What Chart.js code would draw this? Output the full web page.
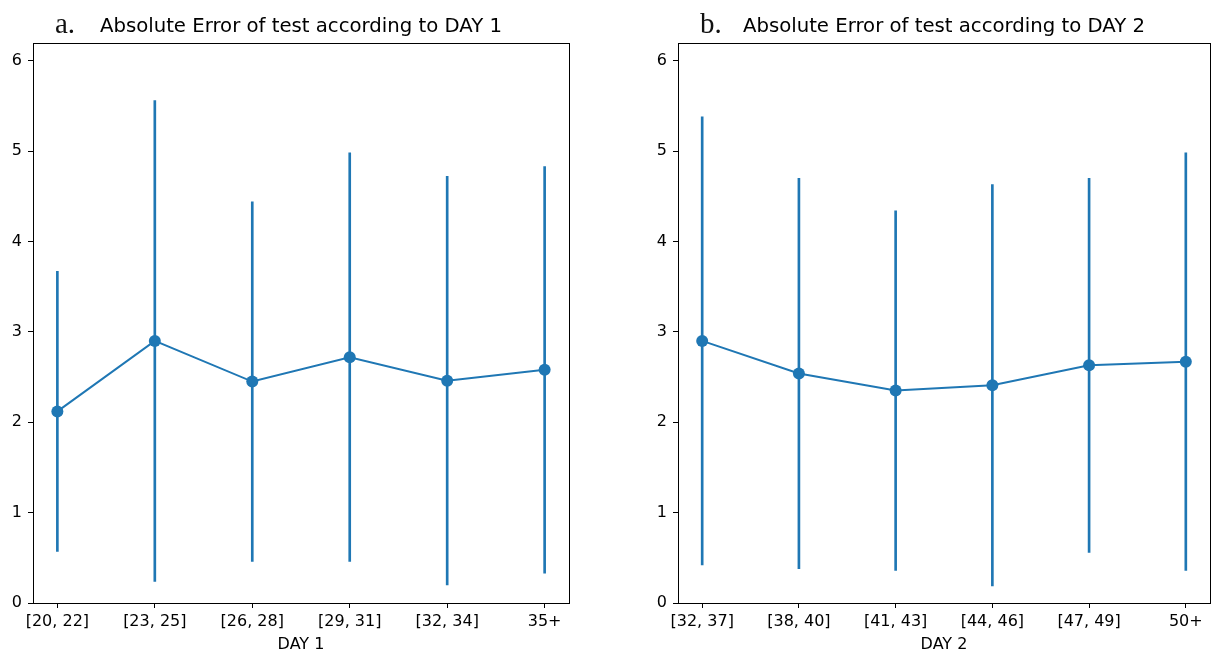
<!DOCTYPE html>
<html>
<head>
<meta charset="utf-8">
<script src="https://cdn.jsdelivr.net/npm/chart.js@4/dist/chart.umd.min.js"></script>
<style>
  body { margin: 0; background: #fff; width: 1216px; height: 654px; position: relative; overflow: hidden; }
  canvas { position: absolute; top: 0; }
  #c1 { left: 0; }
  #c2 { left: 608px; }
  .tag { position: absolute; top: 9px; font-family: "Liberation Serif", "DejaVu Serif", serif; font-size: 29px; line-height: 1; color: #111; }
</style>
</head>
<body>
<canvas id="c1" width="608" height="654"></canvas>
<canvas id="c2" width="608" height="654"></canvas>
<div class="tag" style="left:55px">a.</div>
<div class="tag" style="left:700px">b.</div>
<script>
const day1Labels = ['[20, 22]', '[23, 25]', '[26, 28]', '[29, 31]', '[32, 34]', '35+']
const day1Mean = [2.12, 2.90, 2.45, 2.72, 2.46, 2.58]
const day1Err = [1.55, 2.66, 1.99, 2.26, 2.26, 2.25]

const day2Labels = ['[32, 37]', '[38, 40]', '[41, 43]', '[44, 46]', '[47, 49]', '50+']
const day2Mean = [2.90, 2.54, 2.35, 2.41, 2.63, 2.67]
const day2Err = [2.48, 2.16, 1.99, 2.22, 2.07, 2.31]

const yMin = 0
const yMax = 6.2
const blue = '#1f77b4'

// frame around the plot area (matplotlib spines)
const frame = {
    id: 'frame',
    afterDraw(chart) {
        const a = chart.chartArea
        const ctx = chart.ctx
        ctx.save()
        ctx.strokeStyle = '#000'
        ctx.lineWidth = 1
        ctx.strokeRect(Math.round(a.left) + 0.5, Math.round(a.top) + 0.5, Math.round(a.right - a.left), Math.round(a.bottom - a.top))
        ctx.restore()
    }
}

function makeChart(id, labels, mean, err, title, xTitle, yWidth, padRight) {
    const n = labels.length
    new Chart(document.getElementById(id).getContext('2d'), {
        data: {
            datasets: [
                {
                    type: 'line',
                    order: 0,
                    data: mean.map((m, i) => ({ x: i, y: m })),
                    borderColor: blue,
                    borderWidth: 2,
                    pointRadius: 6,
                    pointBackgroundColor: blue,
                    pointBorderWidth: 0
                },
                {
                    type: 'bar',
                    order: 1,
                    data: mean.map((m, i) => ({ x: i, y: [m - err[i], m + err[i]] })),
                    backgroundColor: blue,
                    borderWidth: 0,
                    barThickness: 2,
                    grouped: false
                }
            ]
        },
        options: {
            responsive: false,
            animation: false,
            devicePixelRatio: 1,
            layout: { padding: { left: 0, right: padRight, top: 0, bottom: 0 } },
            plugins: {
                legend: { display: false },
                tooltip: { enabled: false },
                title: {
                    display: true,
                    text: title,
                    fullSize: false,
                    color: '#000',
                    font: { family: 'DejaVu Sans', size: 19.7, weight: 'normal' },
                    padding: { top: 15, bottom: 4 }
                }
            },
            scales: {
                x: {
                    type: 'linear',
                    offset: false,
                    min: -0.25,
                    max: n - 0.75,
                    border: { display: false },
                    grid: { offset: false, drawOnChartArea: false, drawTicks: true, tickLength: 5, tickColor: '#000' },
                    ticks: {
                        stepSize: 1,
                        includeBounds: false,
                        autoSkip: false,
                        maxRotation: 0,
                        padding: 4,
                        color: '#000',
                        font: { family: 'DejaVu Sans', size: 16 },
                        callback: v => labels[v]
                    },
                    title: {
                        display: true,
                        text: xTitle,
                        color: '#000',
                        font: { family: 'DejaVu Sans', size: 16 },
                        padding: { top: 0, bottom: 0 }
                    },
                    afterFit(scale) { scale.height = 51 }
                },
                y: {
                    type: 'linear',
                    min: yMin,
                    max: yMax,
                    border: { display: false },
                    grid: { drawOnChartArea: false, drawTicks: true, tickLength: 5, tickColor: '#000' },
                    ticks: {
                        stepSize: 1,
                        includeBounds: false,
                        padding: 6,
                        color: '#000',
                        font: { family: 'DejaVu Sans', size: 16 }
                    },
                    afterFit(scale) { scale.width = yWidth }
                }
            }
        },
        plugins: [frame]
    })
}

makeChart('c1', day1Labels, day1Mean, day1Err, 'Absolute Error of test according to DAY 1', 'DAY 1', 33, 39)
makeChart('c2', day2Labels, day2Mean, day2Err, 'Absolute Error of test according to DAY 2', 'DAY 2', 70, 2)
</script>
</body>
</html>
